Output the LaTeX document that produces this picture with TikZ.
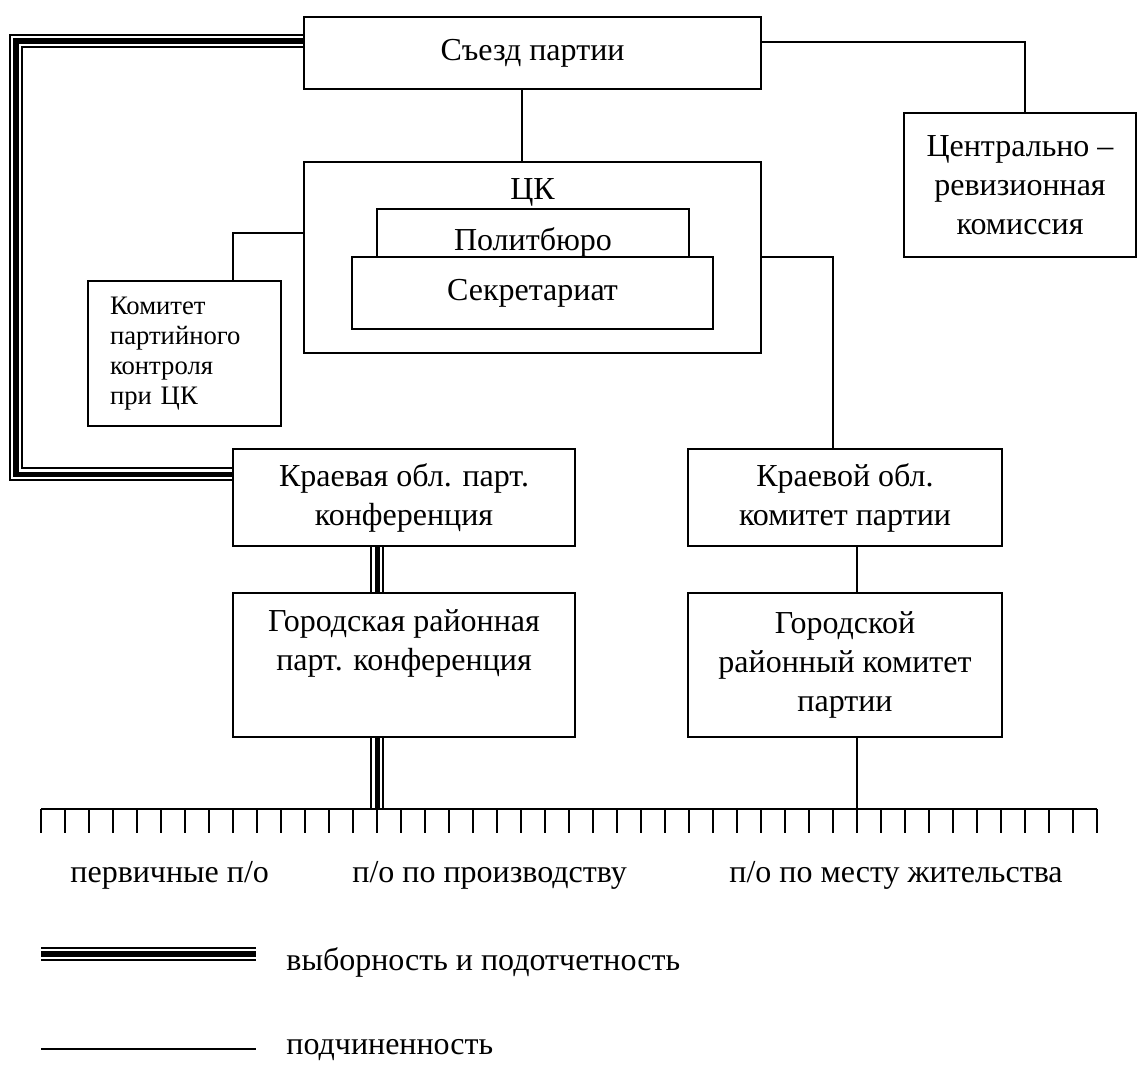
\documentclass[tikz,border=0pt]{standalone}
\usepackage{fontspec}
\setmainfont{Liberation Serif}
\newlength\pxu
\setlength\pxu{0.375pt}
\tikzset{
  box/.style={draw, line width=0.75pt, inner sep=0pt, align=center, fill=white},
  link/.style={line width=0.75pt},
  triple/.style={line width=5.4pt, postaction={draw, white, line width=3.6pt}, postaction={draw, black, line width=1.9pt}},
  every node/.style={font=\fontsize{12}{14.6}\selectfont}
}
\begin{document}
\begin{tikzpicture}[x=0.375pt, y=-0.375pt]
	\useasboundingbox (0,0) rectangle (1137,1065);
	\node[box, minimum width=457*\pxu, minimum height=72*\pxu] (syezd) at (532.5,53) {Съезд партии};
	\node[box, minimum width=232*\pxu, minimum height=144*\pxu] (crk) at (1020,185) {Центрально –\\ревизионная\\комиссия};
	\node[box, minimum width=457*\pxu, minimum height=191*\pxu] (ck) at (532.5,257.5) {};
	\node (ckname) at (532.5,192) {ЦК};
	\node[box, minimum width=312*\pxu, minimum height=66*\pxu] (pb) at (533,242) {Политбюро};
	\node[box, minimum width=361*\pxu, minimum height=72*\pxu] (sek) at (532.5,293) {Секретариат};
	\node[box, align=left, text width=149*\pxu, minimum width=193*\pxu, minimum height=145*\pxu, font=\fontsize{10}{11.25}\selectfont] (kpk) at (184.5,353.5) {Комитет\\партийного\\контроля\\при ЦК};
	\node[box, minimum width=342*\pxu, minimum height=97*\pxu] (kpc) at (404,497.5) {Краевая обл. парт.\\конференция};
	\node[box, minimum width=314*\pxu, minimum height=97*\pxu] (kok) at (845,497.5) {Краевой обл.\\комитет партии};
	\node[box, minimum width=342*\pxu, minimum height=144*\pxu] (gpc) at (404,665) {Городская районная\\парт. конференция\\\strut};
	\node[box, minimum width=314*\pxu, minimum height=144*\pxu] (gk) at (845,665) {Городской\\районный комитет\\партии};
	
	\coordinate (rail) at (16,0);
	\coordinate (barL) at (41,809);
	\coordinate (barR) at (1097,809);
	
	\draw[link] ([xshift=-4.1pt]syezd.south) -- ([xshift=-4.1pt]ck.north);
	\draw[link] ([yshift=4.1pt]syezd.east) -| ([xshift=1.9pt]crk.north);
	\draw[link] ([yshift=9.2pt]ck.west) -| ([xshift=18.2pt]kpk.north);
	\draw[link] (ck.east) -| ([xshift=-4.5pt]kok.north);
	\draw[link] ([xshift=4.5pt]kok.south) -- ([xshift=4.5pt]gk.north);
	\draw[link] ([xshift=4.5pt]gk.south) coordinate (gkout) -- (gkout |- barL);
	
	\draw[triple] ([yshift=4.5pt]syezd.west) coordinate (s1) -- (s1 -| rail) |- ([yshift=8.8pt]kpc.west);
	\draw[triple] ([xshift=-10.1pt]kpc.south) -- ([xshift=-10.1pt]gpc.north);
	\draw[triple] ([xshift=-10.1pt]gpc.south) coordinate (g1) -- (g1 |- barL);
	
	\draw[link] (barL) -- (barR);
	\foreach \i in {0,...,44}
		\draw[link] (41+24*\i,809) -- ++(0,24);
	
	\node[anchor=base west] (perv) at (61,882) {первичные п/о};
	\node[anchor=base west] (proizv) at (343,882) {п/о по производству};
	\node[anchor=base west] (mesto) at (720,882) {п/о по месту жительства};
	
	\coordinate (leg1a) at (41,954);
	\coordinate (leg1b) at (256,954);
	\coordinate (leg2a) at (41,1049);
	\coordinate (leg2b) at (256,1049);
	\draw[triple] (leg1a) -- (leg1b);
	\draw[link] (leg2a) -- (leg2b);
	\node[anchor=base west] (leg1) at (277,970) {выборность и подотчетность};
	\node[anchor=base west] (leg2) at (277,1054) {подчиненность};
	
\end{tikzpicture}
\end{document}
